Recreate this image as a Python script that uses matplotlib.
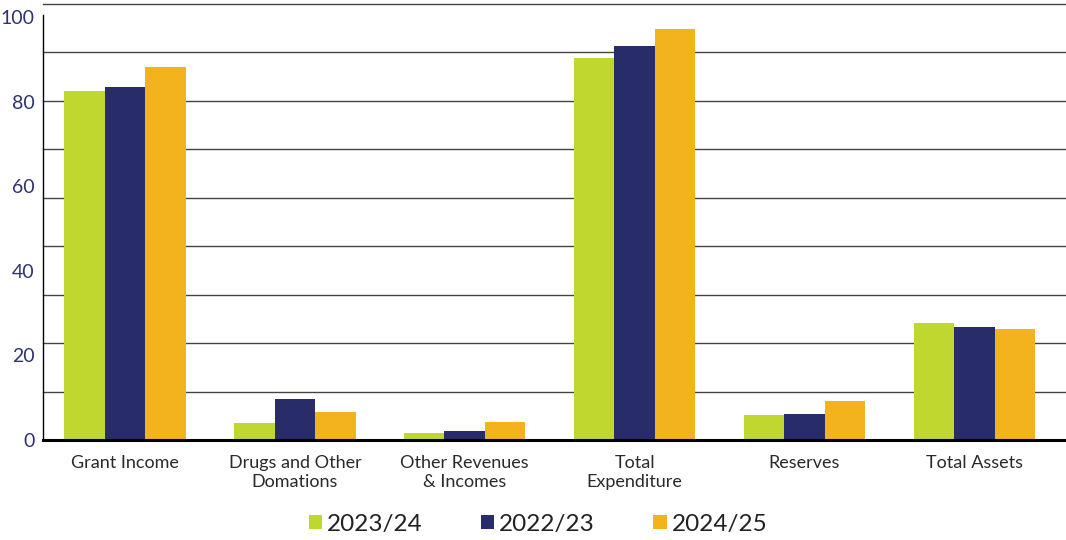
import matplotlib
matplotlib.use("Agg")
import matplotlib.pyplot as plt
import numpy as np
from matplotlib.patches import Patch

categories = ["Grant Income", "Drugs and Other\nDomations", "Other Revenues\n& Incomes",
              "Total\nExpenditure", "Reserves", "Total Assets"]
series_names = ["2023/24", "2022/23", "2024/25"]
v_2023_24 = [82.5, 4.0, 1.7, 90.3, 5.9, 27.7]
v_2022_23 = [83.5, 9.7, 2.2, 93.1, 6.1, 26.7]
v_2024_25 = [88.2, 6.6, 4.3, 97.2, 9.2, 26.2]
yticks = [0, 20, 40, 60, 80, 100]
colors = ["#c0d72f", "#282c68", "#f2b31c"]

plt.rcParams['font.family'] = ['Lato', 'DejaVu Sans']

fig = plt.figure(figsize=(10.66, 5.4), dpi=100)
ax = fig.add_axes([43/1066, 100/540, (1066-43)/1066, 436/540])

x = np.arange(len(categories))
w = 0.2385
for i, (vals, c) in enumerate(zip([v_2023_24, v_2022_23, v_2024_25], colors)):
    ax.bar(x + (i - 1) * w, vals, width=w, color=c, zorder=3, linewidth=0)

top = 103.1
ax.set_ylim(0, top)
ax.set_xlim(-0.483, 5.54)
for k in range(1, 10):
    ax.axhline(top * k / 9, color="#444444", linewidth=1.0, zorder=1, clip_on=False)

ax.set_yticks(yticks)
ax.set_yticklabels([str(t) for t in yticks], fontsize=14, color="#2f3272")
ax.tick_params(axis='y', length=0, pad=6)
ax.set_xticks(x)
ax.set_xticklabels(categories, fontsize=13, color="#2a2a2a", linespacing=1.2)
ax.tick_params(axis='x', length=0, pad=11)

for s in ["top", "right"]:
    ax.spines[s].set_visible(False)
ax.spines["left"].set_color("black")
ax.spines["left"].set_linewidth(1.0)
ax.spines["left"].set_bounds(0, 100.5)
ax.spines["bottom"].set_color("black")
ax.spines["bottom"].set_linewidth(2.2)
ax.spines["bottom"].set_zorder(5)

handles = [Patch(facecolor=c, edgecolor='none') for c in colors]
fig.legend(handles, series_names, loc="center", bbox_to_anchor=(538/1066, 1 - 524/540),
           ncol=3, frameon=False, fontsize=17.5, handlelength=0.55, handleheight=0.55,
           handletextpad=0.2, columnspacing=2.4, labelcolor="#222222")

fig.savefig("out.png", dpi=100)
